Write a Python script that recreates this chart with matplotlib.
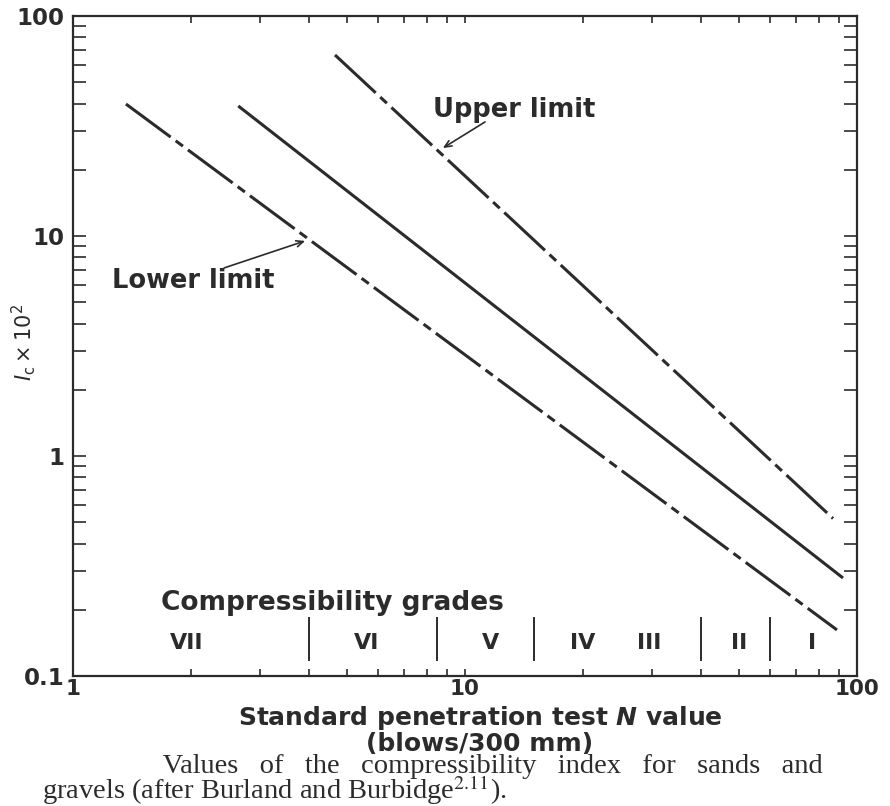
import matplotlib
matplotlib.use('Agg')
import matplotlib.pyplot as plt
from matplotlib.ticker import LogLocator, NullFormatter, FixedLocator, FixedFormatter

# lines (N, Ic x 10^2), straight on log-log so two ends each
upper_N = [4.66, 86.9]
upper_Ic = [66.5, 0.52]
mid_N = [2.64, 92.1]
mid_Ic = [39.0, 0.279]
lower_N = [1.365, 88.9]
lower_Ic = [39.8, 0.162]

# compressibility grade boundaries (N) and labels
grade_bounds = [4, 8.5, 15, 40, 60]
grade_labels = ['VII', 'VI', 'V', 'IV', 'III', 'II', 'I']
grade_label_N = [1.95, 5.6, 11.6, 20, 29.5, 50, 77]

x_ticks = [1, 10, 100]
x_ticklabels = ['1', '10', '100']
y_ticks = [0.1, 1, 10, 100]
y_ticklabels = ['0.1', '1', '10', '100']

caption_1 = 'Values of the compressibility index for sands and'
caption_2 = r'gravels (after Burland and Burbidge$^{2.11}$).'

plt.rcParams['font.family'] = ['DejaVu Sans']
plt.rcParams['lines.scale_dashes'] = False

W, H = 890, 806
fig = plt.figure(figsize=(W / 100, H / 100), dpi=100)
ax = fig.add_axes([73 / W, 1 - 676 / H, 784 / W, 660 / H])

ink = '#2b2b2b'
dashdot = (0, (40, 4.5, 6.5, 4.5))

ax.plot(upper_N, upper_Ic, color=ink, lw=2.2, linestyle=dashdot, dash_capstyle='butt')
ax.plot(mid_N, mid_Ic, color=ink, lw=2.2, solid_capstyle='butt')
ax.plot(lower_N, lower_Ic, color=ink, lw=2.2, linestyle=dashdot, dash_capstyle='butt')

ax.set_xscale('log')
ax.set_yscale('log')
ax.set_xlim(1, 100)
ax.set_ylim(0.1, 100)

ax.xaxis.set_major_locator(FixedLocator(x_ticks))
ax.xaxis.set_major_formatter(FixedFormatter(x_ticklabels))
ax.yaxis.set_major_locator(FixedLocator(y_ticks))
ax.yaxis.set_major_formatter(FixedFormatter(y_ticklabels))
for a in (ax.xaxis, ax.yaxis):
    a.set_minor_locator(LogLocator(base=10, subs=range(2, 10)))
    a.set_minor_formatter(NullFormatter())

ax.tick_params(axis='both', which='both', direction='in', top=True, right=True,
               color=ink, width=1.2)
ax.tick_params(axis='x', which='both', length=5, pad=2)
ax.tick_params(axis='y', which='both', length=9.5, pad=6)
for lab in ax.get_xticklabels():
    lab.set_fontsize(15.5)
for lab in ax.get_yticklabels():
    lab.set_fontsize(16.5)
for lab in ax.get_xticklabels() + ax.get_yticklabels():
    lab.set_fontweight('bold')
    lab.set_color(ink)
for s in ax.spines.values():
    s.set_linewidth(1.6)
    s.set_color(ink)

# grades strip along the bottom
for b in grade_bounds:
    ax.plot([b, b], [0.118, 0.184], color=ink, lw=1.4)
for lab, n in zip(grade_labels, grade_label_N):
    ax.text(n, 0.141, lab, ha='center', va='center', fontsize=16,
            fontweight='bold', color=ink)
ax.text(1.68, 0.215, 'Compressibility grades', ha='left', va='center',
        fontsize=19, fontweight='bold', color=ink)

# limit annotations
arrow = dict(arrowstyle='->,head_length=0.5,head_width=0.22', color=ink, lw=1.2,
             shrinkA=0, shrinkB=0)
ax.text(8.28, 34.7, 'Upper limit', ha='left', va='baseline', fontsize=18.5,
        fontweight='bold', color=ink)
ax.annotate('', xy=(8.78, 25.1), xytext=(11.25, 33.0), arrowprops=arrow)
ax.text(1.257, 5.81, 'Lower limit', ha='left', va='baseline', fontsize=18.5,
        fontweight='bold', color=ink)
ax.annotate('', xy=(3.91, 9.5), xytext=(2.43, 7.16), arrowprops=arrow)

fig.text(24 / W, 1 - 342 / H, r'$I_{\rm c}\times10^2$', rotation=90,
         ha='center', va='center', fontsize=15, color=ink)
# multi-line text: 'baseline' pins the last line
fig.text(480 / W, 1 - 751 / H,
         'Standard penetration test $\\mathbfit{N}$ value\n(blows/300 mm)',
         ha='center', va='baseline', fontsize=18, fontweight='bold',
         linespacing=1.0, color=ink)

# caption: indented first line, spread out a little like the justified original
line_1 = ' ' * 17 + '   '.join(caption_1.split())
fig.text(42 / W, 1 - 799 / H, line_1 + '\n' + caption_2, ha='left', va='baseline',
         fontsize=20.5, family='Liberation Serif', math_fontfamily='stix',
         linespacing=0.8, color=ink)

fig.savefig('out.png', dpi=100)
